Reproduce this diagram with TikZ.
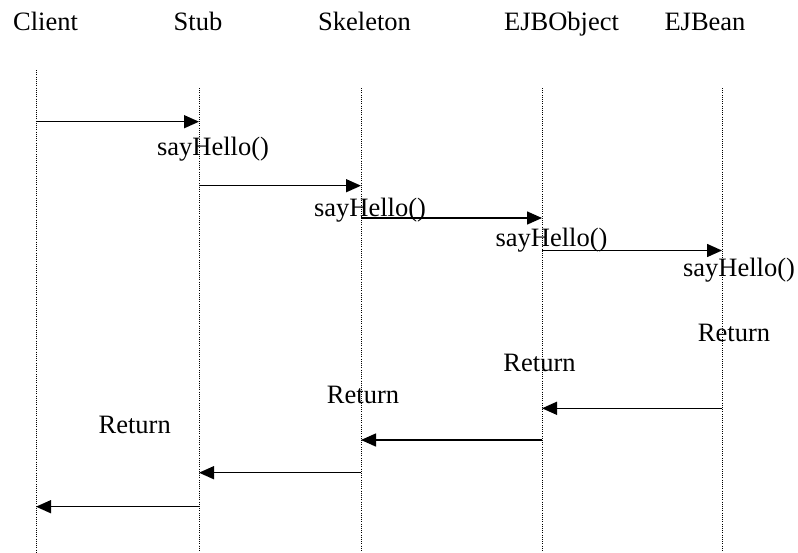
\documentclass[tikz,border=0pt]{standalone}
\usepackage{fontspec}
\setmainfont{Liberation Serif}
\usetikzlibrary{arrows.meta}
\begin{document}
\begin{tikzpicture}[x=1pt,y=-1pt,
  lbl/.style={inner sep=0pt, anchor=base, font=\fontsize{26.5}{30}\selectfont},
  life/.style={line width=0.8pt, dash pattern=on 0.9pt off 1.3pt},
  msg/.style={line width=1.5pt, -{Triangle[length=15pt,width=13pt]}}]
\useasboundingbox (0,0) rectangle (798,552);
% headers
\node[lbl] (hClient) at (45.5,30) {Client};
\node[lbl] (hStub) at (198,30) {Stub};
\node[lbl] (hSkel) at (364.5,30) {Skeleton};
\node[lbl] (hEJBO) at (561.5,30) {EJBObject};
\node[lbl] (hEJBB) at (705,30) {EJBean};
% lifelines
\coordinate (lCt) at (36,70);  \coordinate (lCb) at (36,552);
\coordinate (lSt) at (199,88); \coordinate (lSb) at (199,552);
\coordinate (lKt) at (361,88); \coordinate (lKb) at (361,552);
\coordinate (lOt) at (542,88); \coordinate (lOb) at (542,552);
\coordinate (lBt) at (722,88); \coordinate (lBb) at (722,552);
\draw[life] (lCt) -- (lCb);
\draw[life] (lSt) -- (lSb);
\draw[life] (lKt) -- (lKb);
\draw[life] (lOt) -- (lOb);
\draw[life] (lBt) -- (lBb);
% call points
\coordinate (c1a) at (36,121.7);  \coordinate (c1b) at (199,121.7);
\coordinate (c2a) at (199,185.7); \coordinate (c2b) at (361,185.7);
\coordinate (c3a) at (361,218);   \coordinate (c3b) at (542,218);
\coordinate (c4a) at (542,250.5); \coordinate (c4b) at (722,250.5);
\draw[msg] (c1a) -- (c1b);
\draw[msg] (c2a) -- (c2b);
\draw[msg] (c3a) -- (c3b);
\draw[msg] (c4a) -- (c4b);
\node[lbl] (m1) at (213,155) {sayHello()};
\node[lbl] (m2) at (370,216) {sayHello()};
\node[lbl] (m3) at (551.5,246.7) {sayHello()};
\node[lbl] (m4) at (739,276.7) {sayHello()};
% returns
\coordinate (r1a) at (722,408.3); \coordinate (r1b) at (542,408.3);
\coordinate (r2a) at (542,440);   \coordinate (r2b) at (361,440);
\coordinate (r3a) at (361,472.7); \coordinate (r3b) at (199,472.7);
\coordinate (r4a) at (199,506.7); \coordinate (r4b) at (36,506.7);
\draw[msg] (r1a) -- (r1b);
\draw[msg] (r2a) -- (r2b);
\draw[msg] (r3a) -- (r3b);
\draw[msg] (r4a) -- (r4b);
\node[lbl] (t1) at (734,341.7) {Return};
\node[lbl] (t2) at (539.5,371.7) {Return};
\node[lbl] (t3) at (363,403) {Return};
\node[lbl] (t4) at (134.7,433) {Return};
\end{tikzpicture}
\end{document}
